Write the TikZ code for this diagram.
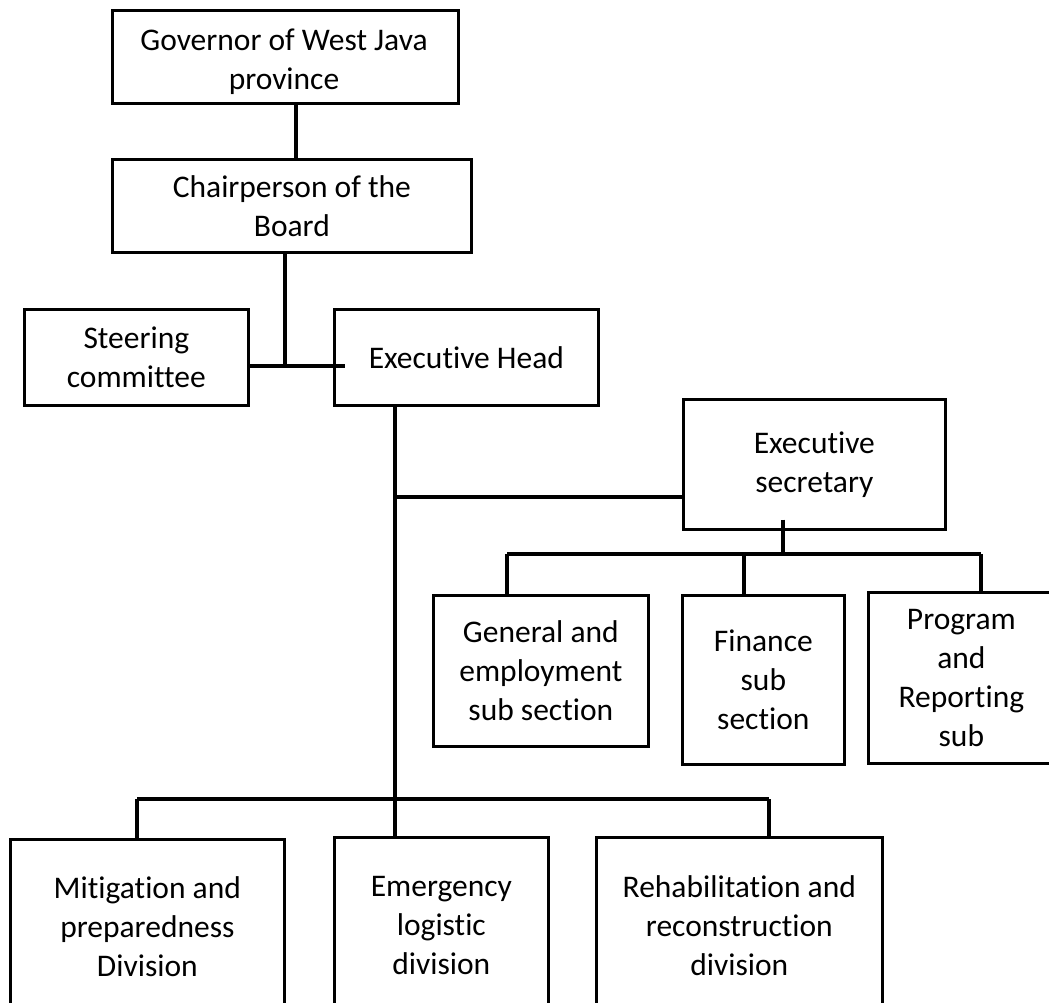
\documentclass[tikz,border=0pt]{standalone}
\usepackage{fontspec}
\setmainfont{Carlito}[Ligatures=NoCommon]
\usetikzlibrary{calc}
\begin{document}
\begin{tikzpicture}[x=0.5pt,y=-0.5pt,
  box/.style={draw=black, line width=1.35pt, anchor=north west, inner sep=0pt,
    align=center, font=\fontsize{15.75}{19.5}\selectfont},
  boxtext/.style={inner sep=0pt, align=center, font=\fontsize{15.75}{19.5}\selectfont},
  link/.style={draw=black, line width=1.65pt}]
\useasboundingbox (0,0) rectangle (1049,1002);
\clip (0,0) rectangle (1049,1002);
\fill[white] (0,0) rectangle (1049,1002);
% boxes
\coordinate (govc) at (284,62);
\node[boxtext] (govt) at (govc) {Governor of West Java\\province};
\node[box, fill=none, minimum width=173pt, minimum height=46.5pt] (gov) at (111,9) {};
\node[box, minimum width=179.5pt, minimum height=46.5pt] (chair) at (111,158) {Chairperson of the\\Board};
\node[box, minimum width=112pt, minimum height=48pt] (steer) at (23,308) {Steering\\committee};
\node[box, minimum width=132pt, minimum height=48pt] (exec) at (333,308) {Executive Head};
\node[box, minimum width=131pt, minimum height=65pt] (sec) at (682,398) {Executive\\secretary};
\node[box, minimum width=107.5pt, minimum height=75.5pt] (gen) at (432,594) {General and\\employment\\sub section};
\node[box, minimum width=81pt, minimum height=84.5pt] (fin) at (681,594) {Finance\\sub\\section};
\node[box, minimum width=93pt, minimum height=85.5pt] (prog) at (867,591) {Program\\and\\Reporting\\sub};
\node[box, minimum width=137pt, minimum height=87pt] (mit) at (9,838) {Mitigation and\\preparedness\\Division};
\node[box, minimum width=107pt, minimum height=88pt] (emer) at (333,836) {Emergency\\logistic\\division};
\node[box, minimum width=143pt, minimum height=88pt] (reh) at (595,836) {Rehabilitation and\\reconstruction\\division};
% junction coordinates
\coordinate (jg) at (296,130);
\coordinate (jc) at (285,366);
\coordinate (je) at (395,497);
\coordinate (js) at (783,554);
\coordinate (jgen) at (507,554);
\coordinate (jfin) at (744,554);
\coordinate (jprog) at (981,554);
\coordinate (jmit) at (137,799);
\coordinate (jreh) at (769,799);
% connectors
\draw[link] (gov.south -| jg) -- (chair.north -| jg);
\draw[link] (chair.south -| jc) -- (jc);
\draw[link] (steer.east |- jc) -- ($(exec.west |- jc)+(12,0)$);
\draw[link] (exec.south -| je) -- (emer.north -| je);
\draw[link] (je) -- (sec.west |- je);
\draw[link] ($(sec.south -| js)+(0,-11)$) -- (js);
\draw[link] (jgen) -- (jprog);
\draw[link] (jgen) -- (gen.north -| jgen);
\draw[link] (jfin) -- (fin.north -| jfin);
\draw[link] (jprog) -- (prog.north -| jprog);
\draw[link] (jmit) -- (jreh);
\draw[link] (jmit) -- (mit.north -| jmit);
\draw[link] (jreh) -- (reh.north -| jreh);
\end{tikzpicture}
\end{document}
